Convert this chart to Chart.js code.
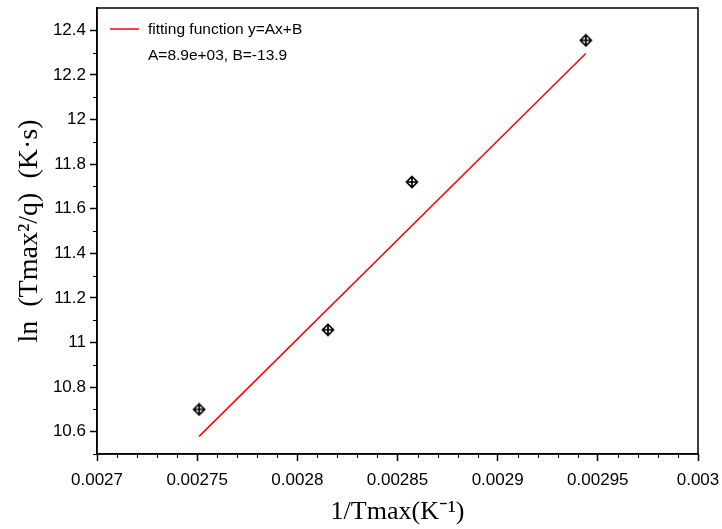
<!DOCTYPE html>
<html lang="en">
<head>
  <meta charset="UTF-8">
  <title>ln(Tmax²/q) vs 1/Tmax</title>
  <script src="https://cdn.jsdelivr.net/npm/chart.js"></script>
  <style>
    body { margin: 0; background: #fff; }
    canvas { display: block; }
  </style>
</head>
<body>
  <canvas id="fitChart" width="722" height="529"></canvas>

  <script>
    // --- data ---
    const invTmax = [0.002751, 0.0028153, 0.0028572, 0.002944];
    const lnTq    = [10.70, 11.057, 11.72, 12.355];
    // fitted line y = Ax + B, drawn between its two ends
    const fitX = [0.002751, 0.002944];
    const fitY = [10.579, 12.296];
    const fitLabel = 'fitting function y=Ax+B';
    const fitParams = 'A=8.9e+03, B=-13.9';

    // axes
    const xTicks = [0.0027, 0.00275, 0.0028, 0.00285, 0.0029, 0.00295, 0.003];
    const yTicks = [10.6, 10.8, 11, 11.2, 11.4, 11.6, 11.8, 12, 12.2, 12.4];
    const xRange = [0.0027, 0.003];
    const yRange = [10.5, 12.5];

    // diamond-with-cross marker
    const mk = document.createElement('canvas');
    mk.width = 14; mk.height = 14;
    const m = mk.getContext('2d');
    m.strokeStyle = '#000'; m.lineWidth = 1.7;
    m.beginPath();
    m.moveTo(7, 1.5); m.lineTo(12.5, 7); m.lineTo(7, 12.5); m.lineTo(1.5, 7); m.closePath();
    m.moveTo(7, 1.5); m.lineTo(7, 12.5);
    m.moveTo(1.5, 7); m.lineTo(12.5, 7);
    m.stroke();

    const sans = 'Liberation Sans, Arial, sans-serif';
    const serif = 'Liberation Serif, Times New Roman, serif';

    // frame, minor ticks and the in-plot legend
    const decor = {
      id: 'decor',
      afterDraw(chart) {
        const {ctx, chartArea: a, scales: {x, y}} = chart;
        ctx.save();
        ctx.strokeStyle = '#000';
        ctx.lineWidth = 1.5;
        ctx.strokeRect(a.left, a.top, a.right - a.left, a.bottom - a.top);

        ctx.lineWidth = 1;
        ctx.beginPath();
        for (let i = 0; i < yTicks.length; i++) {
          const v = yTicks[i] + 0.1;
          if (v < yRange[1]) {
            const py = Math.round(y.getPixelForValue(v)) + 0.5;
            ctx.moveTo(a.left - 4, py); ctx.lineTo(a.left, py);
          }
        }
        const py0 = Math.round(y.getPixelForValue(yTicks[0] - 0.1)) + 0.5;
        ctx.moveTo(a.left - 4, py0); ctx.lineTo(a.left, py0);
        for (let i = 0; i < xTicks.length - 1; i++) {
          const step = (xTicks[i + 1] - xTicks[i]) / 5;
          for (let k = 1; k < 5; k++) {
            const px = Math.round(x.getPixelForValue(xTicks[i] + k * step)) + 0.5;
            ctx.moveTo(px, a.bottom); ctx.lineTo(px, a.bottom + 4);
          }
        }
        ctx.stroke();

        // legend
        ctx.strokeStyle = '#ff0000';
        ctx.lineWidth = 1.5;
        ctx.beginPath();
        ctx.moveTo(110, 29); ctx.lineTo(139, 29);
        ctx.stroke();
        ctx.fillStyle = '#000';
        ctx.font = '15.5px ' + sans;
        ctx.textBaseline = 'middle';
        ctx.fillText(fitLabel, 148, 30);
        ctx.fillText(fitParams, 148, 56);
        ctx.restore();
      }
    };

    const fmt = v => String(Number(v.toFixed(6)));

    new Chart(document.getElementById('fitChart'), {
      type: 'scatter',
      data: {
        datasets: [
          {
            label: 'data',
            data: invTmax.map((v, i) => ({x: v, y: lnTq[i]})),
            pointStyle: mk,
            pointRadius: 7,
            showLine: false
          },
          {
            label: fitLabel,
            data: fitX.map((v, i) => ({x: v, y: fitY[i]})),
            showLine: true,
            borderColor: '#ff0000',
            borderWidth: 1.5,
            pointRadius: 0
          }
        ]
      },
      options: {
        responsive: false,
        animation: false,
        layout: { padding: { top: 7, right: 24, left: 0, bottom: 0 } },
        plugins: { legend: { display: false }, tooltip: { enabled: false } },
        scales: {
          x: {
            type: 'linear',
            min: xRange[0], max: xRange[1],
            afterBuildTicks: s => { s.ticks = xTicks.map(v => ({value: v})); },
            afterFit: s => { s.height = 75; s.paddingLeft = 0; s.paddingRight = 0; },
            grid: { drawOnChartArea: false, tickLength: 7, tickColor: '#000', tickWidth: 1.5 },
            border: { display: true, color: '#000', width: 1.5 },
            ticks: { color: '#000', font: { family: sans, size: 17 }, padding: 9, maxRotation: 0, autoSkip: false, callback: fmt },
            title: { display: true, text: '1/Tmax(K⁻¹)', color: '#000', font: { family: serif, size: 26 }, padding: { top: 0, bottom: 1 } }
          },
          y: {
            type: 'linear',
            min: yRange[0], max: yRange[1],
            afterBuildTicks: s => { s.ticks = yTicks.map(v => ({value: v})); },
            afterFit: s => { s.width = 97; s.paddingTop = 0; s.paddingBottom = 0; },
            grid: { drawOnChartArea: false, tickLength: 7, tickColor: '#000', tickWidth: 1.5 },
            border: { display: true, color: '#000', width: 1.5 },
            ticks: { color: '#000', font: { family: sans, size: 17 }, padding: 4, autoSkip: false, callback: fmt },
            title: { display: true, text: 'ln  (Tmax²/q)  (K·s)', color: '#000', font: { family: serif, size: 28 }, padding: { top: 13, bottom: 0 } }
          }
        }
      },
      plugins: [decor]
    });
  </script>
</body>
</html>
